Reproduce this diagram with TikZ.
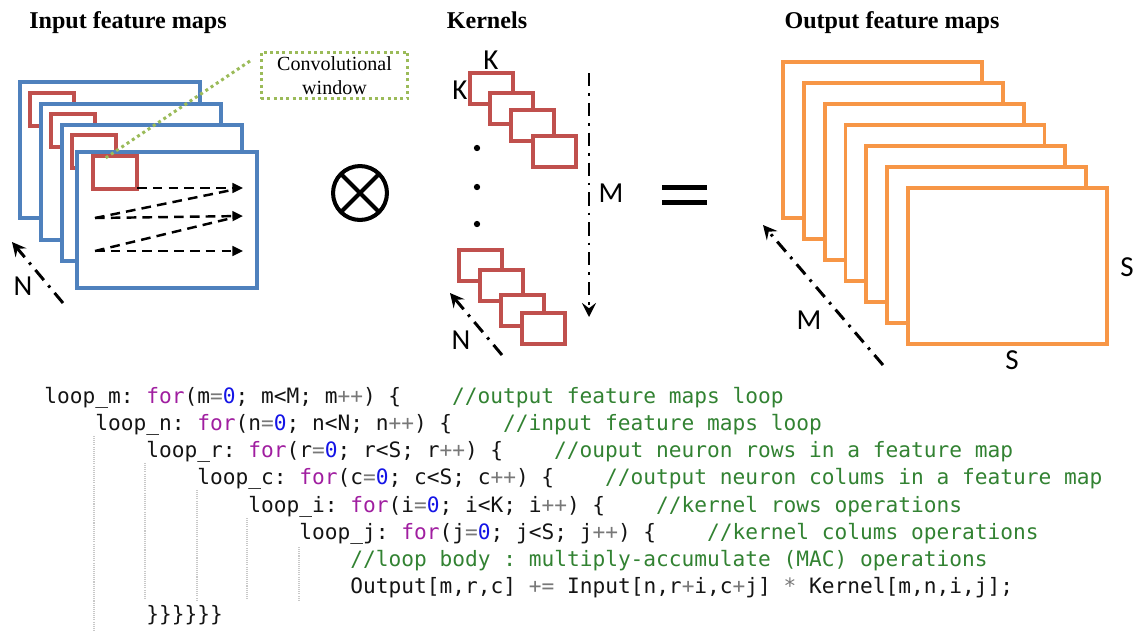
\documentclass[tikz,border=0pt]{standalone}
\usepackage{fontspec}
\setmainfont{Liberation Serif}
\newfontfamily\lblfont{Carlito}
\newfontfamily\codefont{DejaVu Sans Mono}
\definecolor{MapBlue}{RGB}{79,129,189}
\definecolor{WinRed}{RGB}{192,80,77}
\definecolor{OutOrange}{RGB}{247,150,70}
\definecolor{WinGreen}{RGB}{155,187,89}
\definecolor{CodeKey}{RGB}{160,30,160}
\definecolor{CodeNum}{RGB}{20,20,230}
\definecolor{CodeOp}{RGB}{120,120,120}
\definecolor{CodeCmt}{RGB}{50,130,50}
\definecolor{CodeTxt}{RGB}{20,20,20}
\definecolor{GuideGray}{RGB}{200,200,200}
\usetikzlibrary{arrows.meta}
\newcommand{\kw}[1]{\textcolor{CodeKey}{#1}}
\newcommand{\nm}[1]{\textcolor{CodeNum}{#1}}
\newcommand{\op}[1]{\textcolor{CodeOp}{#1}}
\newcommand{\cm}[1]{\textcolor{CodeCmt}{#1}}
\tikzset{
  fmap/.style={draw=MapBlue,line width=2pt,fill=white},
  kwin/.style={draw=WinRed,line width=2pt,fill=white},
  omap/.style={draw=OutOrange,line width=2.2pt,fill=white},
  scanline/.style={line width=1.4pt,dash pattern=on 5.5pt off 3.5pt},
  scan/.style={scanline,-{Triangle[length=6pt,width=5.5pt]}},
  dimarrow/.style={line width=1.7pt,dash pattern=on 7.5pt off 4pt on 1.5pt off 4pt,
    -{Stealth[length=8pt,width=8pt,inset=3pt]}},
  headtxt/.style={font=\fontsize{13.7}{16}\selectfont\bfseries,anchor=base,inner sep=0},
  lbl/.style={font=\lblfont\fontsize{16.5}{18}\selectfont,inner sep=0},
  codeln/.style={font=\codefont\fontsize{12.05}{14}\selectfont\frenchspacing,text=CodeTxt,anchor=base west,inner sep=0},
  guide/.style={GuideGray,line width=0.6pt,dash pattern=on 0.6pt off 0.6pt}
}
\begin{document}
\begin{tikzpicture}[x=0.02cm,y=-0.02cm]
\useasboundingbox (0,0) rectangle (1133,630);
\node[headtxt] (inTitle) at (128,28.5) {Input feature maps};
\node[headtxt] (kerTitle) at (487,28.5) {Kernels};
\node[headtxt] (outTitle) at (892,28.5) {Output feature maps};

\foreach \x/\y/\u/\v in {20/82/30/93,41/104/51/114,62/125/72/135,77/152/93/156}{
  \draw[fmap] (\x,\y) rectangle ++(180,136);
  \draw[kwin] (\u,\v) rectangle ++(44,33);
}
\coordinate (r1s) at (137,188); \coordinate (r1e) at (243,188);
\coordinate (r2s) at (95,218);  \coordinate (r2e) at (243,216);
\coordinate (r3s) at (95,251);  \coordinate (r3e) at (243,251);
\coordinate (d1e) at (232,190); \coordinate (d2e) at (232,218);
\draw[scan] (r1s) -- (r1e);
\draw[scan] (r2s) -- (r2e);
\draw[scan] (r3s) -- (r3e);
\draw[scanline] (r2s) -- (d1e);
\draw[scanline] (r3s) -- (d2e);

\node[draw=WinGreen,line width=1.7pt,dash pattern=on 1.7pt off 1.9pt,
  minimum width=83.6pt,minimum height=26.7pt,inner sep=0,align=center,
  font=\fontsize{11.4}{13.7}\selectfont] (cwin) at (334.5,75.5) {Convolutional\\window};
\coordinate (cwinStart) at (250,61); \coordinate (cwinTip) at (104,159);
\draw[WinGreen,line width=1.7pt,dash pattern=on 1.7pt off 1.9pt] (cwinStart) -- (cwinTip);

\coordinate (nInTail) at (63,303); \coordinate (nInTip) at (12,242);
\draw[dimarrow] (nInTail) -- (nInTip);
\node[lbl] (nIn) at (23,286) {N};

\node[circle,draw,line width=2.3pt,minimum size=30.7pt,inner sep=0,outer sep=0] (prod) at (360,193) {};
\draw[line width=2.3pt] (prod.north west) -- (prod.south east);
\draw[line width=2.3pt] (prod.north east) -- (prod.south west);

\foreach \x/\y in {470/73,490/93,511/110,533/136,459/250,480/270,501/295,522/313}
  \draw[kwin] (\x,\y) rectangle ++(43,31);
\foreach \y in {148,187,224}
  \fill (477,\y) circle (1.8pt);
\node[lbl] (kTop) at (491,60) {K};
\node[lbl] (kLeft) at (460,90) {K};
\coordinate (mKerTail) at (589,73); \coordinate (mKerTip) at (589,317);
\draw[dimarrow] (mKerTail) -- (mKerTip);
\node[lbl] (mKer) at (611,193) {M};
\coordinate (nKerTail) at (502,355); \coordinate (nKerTip) at (450,293);
\draw[dimarrow] (nKerTail) -- (nKerTip);
\node[lbl] (nKer) at (461,340) {N};

\draw[line width=2.8pt] (662,187.5) -- (707,187.5);
\draw[line width=2.8pt] (662,202.5) -- (707,202.5);

\foreach \i in {0,...,6}
  \draw[omap] ({783+20.83*\i},{62+21*\i}) rectangle ++(199,156);
\node[lbl] (sRight) at (1127,267) {S};
\node[lbl] (sBottom) at (1012,360) {S};
\coordinate (mOutTail) at (883,365); \coordinate (mOutTip) at (763,225);
\draw[dimarrow] (mOutTail) -- (mOutTip);
\node[lbl] (mOut) at (809,320) {M};

\draw[guide] (94,436) -- (94,630);
\draw[guide] (145,463) -- (145,600);
\draw[guide] (197,490) -- (197,600);
\draw[guide] (247,518) -- (247,600);
\draw[guide] (299,547) -- (299,600);
\node[codeln] (ln1) at (44,403) {loop\_m: \kw{for}(m\op{=}\nm{0}; m<M; m\op{++}) \{~~~~\cm{//output feature maps loop}};
\node[codeln] (ln2) at (95,430.25) {loop\_n: \kw{for}(n\op{=}\nm{0}; n<N; n\op{++}) \{~~~~\cm{//input feature maps loop}};
\node[codeln] (ln3) at (146,457.5) {loop\_r: \kw{for}(r\op{=}\nm{0}; r<S; r\op{++}) \{~~~~\cm{//ouput neuron rows in a feature map}};
\node[codeln] (ln4) at (197,484.75) {loop\_c: \kw{for}(c\op{=}\nm{0}; c<S; c\op{++}) \{~~~~\cm{//output neuron colums in a feature map}};
\node[codeln] (ln5) at (248,512) {loop\_i: \kw{for}(i\op{=}\nm{0}; i<K; i\op{++}) \{~~~~\cm{//kernel rows operations}};
\node[codeln] (ln6) at (299,539.25) {loop\_j: \kw{for}(j\op{=}\nm{0}; j<S; j\op{++}) \{~~~~\cm{//kernel colums operations}};
\node[codeln] (ln7) at (350,566.5) {\cm{//loop body : multiply-accumulate (MAC) operations}};
\node[codeln] (ln8) at (350,593.75) {Output[m,r,c] \op{+=} Input[n,r\op{+}i,c\op{+}j] \op{*} Kernel[m,n,i,j];};
\node[codeln] (ln9) at (146,621) {\}\}\}\}\}\}};
\end{tikzpicture}
\end{document}
